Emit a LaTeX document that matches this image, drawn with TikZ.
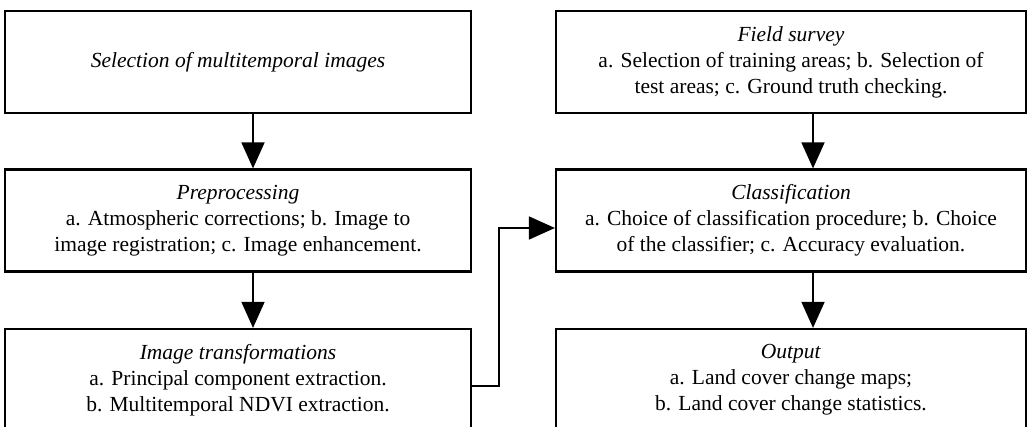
\documentclass[tikz,border=0pt]{standalone}
\usepackage{fontspec}
\setmainfont{Liberation Serif}
\usetikzlibrary{arrows.meta}

\begin{document}
\begin{tikzpicture}[x=1pt,y=-1pt,
    box/.style={draw,line width=2.2pt,minimum width=466pt,minimum height=102pt,
      align=center,inner sep=0pt,font=\fontsize{21.5}{26}\selectfont},
    link/.style={line width=1.6pt,-{Triangle[length=26pt,width=23pt]}}]
      \useasboundingbox (0,0) rectangle (1027,427);
      \node[box] (sel) at (238,62) {\textit{Selection of multitemporal images}};
      \node[box] (pre) at (238,220.5) {\textit{Preprocessing}\\a. Atmospheric corrections; b. Image to\\image registration; c. Image enhancement.};
      \node[box] (trans) at (238,380) {\textit{Image transformations}\\a. Principal component extraction.\\b. Multitemporal NDVI extraction.};
      \node[box,minimum width=470pt] (field) at (791,62) {\textit{Field survey}\\a. Selection of training areas; b. Selection of\\test areas; c. Ground truth checking.};
      \node[box,minimum width=470pt] (cls) at (791,220.5) {\textit{Classification}\\a. Choice of classification procedure;  b. Choice\\of the classifier; c. Accuracy evaluation.};
      \node[box,minimum width=470pt] (out) at (791,380) {\textit{Output}\\a. Land cover change maps;\\b. Land cover change statistics.};
      \draw[link] ([xshift=15pt]sel.south) -- ([xshift=15pt]pre.north);
      \draw[link] ([xshift=15pt]pre.south) -- ([xshift=15pt]trans.north);
      \draw[link] ([xshift=22pt]field.south) -- ([xshift=22pt]cls.north);
      \draw[link] ([xshift=22pt]cls.south) -- ([xshift=22pt]out.north);
      \draw[link] ([yshift=-6pt]trans.east) -- ++(27,0) |- ([yshift=-7.5pt]cls.west);
\end{tikzpicture}
\end{document}
